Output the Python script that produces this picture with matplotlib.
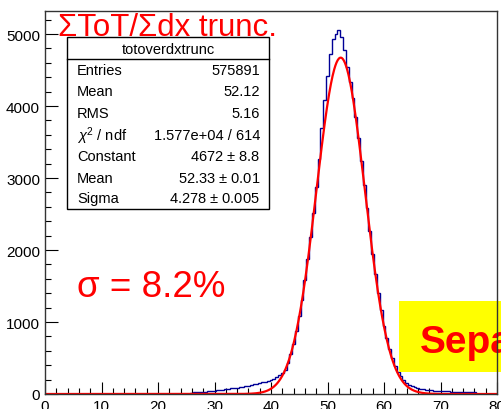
import numpy as np
import matplotlib
matplotlib.use("Agg")
import matplotlib.pyplot as plt
from matplotlib.patches import Rectangle

plt.rcParams['font.family'] = ['Liberation Sans', 'DejaVu Sans']
plt.rcParams['mathtext.fontset'] = 'custom'
plt.rcParams['mathtext.rm'] = 'Liberation Sans'
plt.rcParams['mathtext.it'] = 'Liberation Sans:italic'

# histogram: bin centres (width 0.5) and counts
bin_width = 0.5
centres = np.arange(26.0, 76.5, 0.5)
counts = [
    20, 22, 25, 28, 30, 33, 36, 40, 45, 50,            # 26.0 - 30.5
    55, 60, 66, 72, 78, 84, 90, 96, 104, 110,          # 31.0 - 35.5
    118, 126, 134, 142, 150, 160, 170, 182, 196, 212,  # 36.0 - 40.5
    232, 258, 290, 340, 430, 550, 700, 880, 1080, 1310,  # 41.0 - 45.5
    1580, 1870, 2180, 2520, 2880, 3270, 3690, 4080, 4420, 4720,  # 46.0 - 50.5
    4930, 5000, 5060, 4960, 4780, 4540, 4340, 4110, 3850, 3550,  # 51.0 - 55.5
    3240, 2910, 2580, 2260, 1950, 1660, 1400, 1160, 950, 775,    # 56.0 - 60.5
    625, 500, 395, 310, 245, 195, 158, 128, 108, 92,   # 61.0 - 65.5
    80, 72, 65, 60, 56, 52, 48, 45, 42, 40,            # 66.0 - 70.5
    38, 36, 34, 32, 31, 30, 29, 28, 27, 26, 25,        # 71.0 - 76.0
]

# gaussian fit parameters (from the stats box)
fit_const = 4672
fit_mean = 52.33
fit_sigma = 4.278

stats_rows = [
    ("Entries", "575891"),
    ("Mean", "52.12"),
    ("RMS", "5.16"),
    (r"$\chi^2$ / ndf", "1.577e+04 / 614"),
    ("Constant", "4672 $\\pm$ 8.8"),
    ("Mean", "52.33 $\\pm$ 0.01"),
    ("Sigma", "4.278 $\\pm$ 0.005"),
]

W, H = 501, 410
fig = plt.figure(figsize=(W / 100, H / 100), dpi=100)
ax = fig.add_axes([45 / W, 1 - 395 / H, (497 - 45) / W, (395 - 12) / H])


def fx(px):
    return px / W


def fy(py):
    return 1 - py / H


# histogram as steps, padded with empty bins to cover 0-80
edges = np.concatenate([[0.0], centres - bin_width / 2, [centres[-1] + bin_width / 2, 80.0]])
vals = np.concatenate([[0], counts, [0]])
ax.stairs(vals, edges, color='#000096', linewidth=1.0, zorder=2)

xf = np.linspace(0, 80, 801)
yf = fit_const * np.exp(-0.5 * ((xf - fit_mean) / fit_sigma) ** 2)
ax.plot(xf, yf, color='#ff0000', linewidth=1.6, zorder=3)

ax.set_xlim(0, 80)
ax.set_ylim(0, 5320)
ax.set_xticks(np.arange(0, 81, 10))
ax.set_xticks(np.arange(0, 81, 2), minor=True)
ax.set_yticks(np.arange(0, 5001, 1000))
ax.set_yticks(np.arange(0, 5201, 200), minor=True)
ax.tick_params(which='both', direction='in', top=False, right=False, labelsize=11, pad=3.6)
ax.tick_params(which='major', length=9, width=0.8)
ax.tick_params(which='minor', length=4.5, width=0.8)
for sp in ax.spines.values():
    sp.set_linewidth(1.0)
    sp.set_color('#333333')
    sp.set_zorder(5)

# title
fig.text(fx(58), fy(36.5), "ΣToT/Σdx trunc.", color='red', fontsize=22.5, va='baseline', ha='left')

# stats box
box = Rectangle((fx(67), fy(210)), fx(269) - fx(67), fy(38) - fy(210),
                transform=fig.transFigure, facecolor='white', edgecolor='black',
                linewidth=1.0, clip_on=False, zorder=6)
ax.add_patch(box)
ax.add_line(plt.Line2D([fx(67), fx(269)], [fy(60), fy(60)], transform=fig.transFigure,
                       color='black', linewidth=1.0, clip_on=False, zorder=7))
ax.text(fx(168), fy(50), "totoverdxtrunc", transform=fig.transFigure, ha='center', va='center',
        fontsize=10.5, zorder=8)
row_y = [71, 92, 114, 136, 157.5, 179, 199.5]
for (lab, val), y in zip(stats_rows, row_y):
    ax.text(fx(77), fy(y), lab, transform=fig.transFigure, ha='left', va='center', fontsize=10.5, zorder=8)
    ax.text(fx(260), fy(y), val, transform=fig.transFigure, ha='right', va='center', fontsize=10.5, zorder=8)

# resolution label
fig.text(fx(77), fy(297), "σ = 8.2%", color='red', fontsize=26.5, va='baseline', ha='left')

# yellow label box, cut off at the right edge
ax.add_patch(Rectangle((fx(399), fy(373)), fx(560) - fx(399), fy(302) - fy(373),
                       transform=fig.transFigure, facecolor='#ffff00', edgecolor='none',
                       clip_on=False, zorder=4))
ax.text(fx(420), fy(353), "Separation", transform=fig.transFigure, color='red', fontsize=28,
        fontweight='bold', va='baseline', ha='left', zorder=4.5, clip_on=False)

fig.savefig("out.png", dpi=100)
